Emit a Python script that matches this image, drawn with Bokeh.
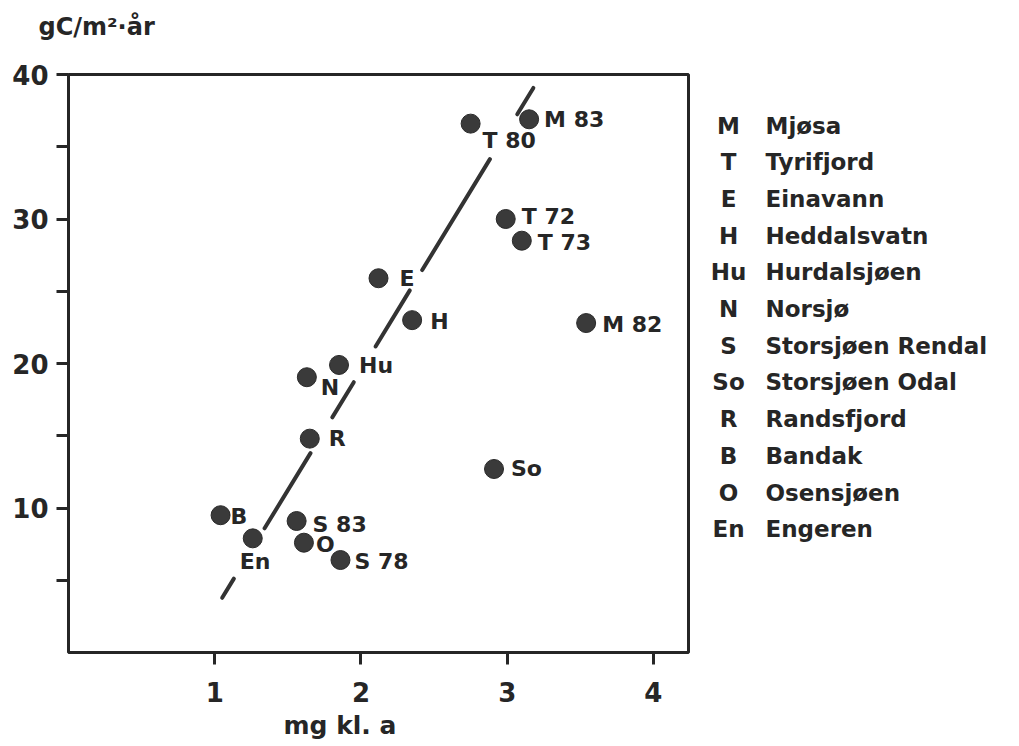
from bokeh.plotting import figure
from bokeh.models import Range1d, FixedTicker, ColumnDataSource, Title
from bokeh.layouts import row
from bokeh.embed import file_html
from bokeh.resources import INLINE
from bokeh.core.properties import value

# ---------------- data ----------------
lake_codes = ["M 83", "T 80", "T 72", "T 73", "M 82", "So", "E", "H", "Hu",
              "N", "R", "B", "En", "S 83", "O", "S 78"]
chl_a = [3.15, 2.75, 2.99, 3.10, 3.54, 2.91, 2.12, 2.35, 1.85,
         1.63, 1.65, 1.04, 1.26, 1.56, 1.61, 1.86]          # mg kl. a
production = [36.9, 36.6, 30.0, 28.5, 22.8, 12.7, 25.9, 23.0, 19.9,
              19.05, 14.8, 9.5, 7.9, 9.1, 7.6, 6.4]          # gC/m2 år

legend_codes = ["M", "T", "E", "H", "Hu", "N", "S", "So", "R", "B", "O", "En"]
legend_names = ["Mjøsa", "Tyrifjord", "Einavann", "Heddalsvatn", "Hurdalsjøen",
                "Norsjø", "Storsjøen Rendal", "Storsjøen Odal", "Randsfjord",
                "Bandak", "Osensjøen", "Engeren"]

# regression line y = a + b x, drawn in pieces (gaps around labels)
trend_intercept = -13.64
trend_slope = 16.58
trend_x_start = [1.051, 1.341, 1.804, 2.100, 2.419, 3.069]
trend_x_end = [1.131, 1.655, 1.951, 2.334, 2.882, 3.179]

x_ticks = [1, 2, 3, 4]
y_ticks = [10, 20, 30, 40]
y_minor_ticks = [5, 15, 25, 35]

# ---------------- layout / style ----------------
H = 746
FL, FT, FW, FH = 68, 74, 620, 578
MAIN_W = 708
KEY_W = 311
X0, X1, Y0, Y1 = 0.0, 4.24, 0.0, 40.0
INK = "#262626"
DOT = "#3a3a3a"
FONT = value("DejaVu Sans")

label_dx = [15, 12, 16, 16, 16, 17, 21, 18, 20, 14, 19, 10, -13, 16, 12, 14]
label_dy = [0, 17, -3, 2, 1, 0, 0, 1, 1, 10, 0, 1, 23, 3, 2, 1]

p = figure(width=MAIN_W, height=H, output_backend="svg", toolbar_location=None,
           x_range=Range1d(X0, X1), y_range=Range1d(Y0, Y1),
           min_border_left=FL, min_border_top=FT,
           min_border_right=MAIN_W - FL - FW, min_border_bottom=H - FT - FH)
p.background_fill_color = "white"
p.border_fill_color = "white"
p.outline_line_color = INK
p.outline_line_width = 3
p.xgrid.visible = False
p.ygrid.visible = False

for ax in (p.xaxis[0], p.yaxis[0]):
    ax.axis_line_color = None
    ax.major_tick_line_color = INK
    ax.major_tick_line_width = 3
    ax.major_tick_in = 0
    ax.major_tick_out = 12
    ax.minor_tick_line_color = INK
    ax.minor_tick_line_width = 3
    ax.minor_tick_in = 0
    ax.minor_tick_out = 12
    ax.major_label_text_font = "DejaVu Sans"
    ax.major_label_text_font_style = "bold"
    ax.major_label_text_font_size = "26px"
    ax.major_label_text_color = INK

p.xaxis[0].ticker = FixedTicker(ticks=x_ticks, minor_ticks=[])
p.xaxis[0].major_label_standoff = 17
p.yaxis[0].ticker = FixedTicker(ticks=y_ticks, minor_ticks=y_minor_ticks)
p.yaxis[0].major_label_standoff = 8

# titles (y on top-left, x below, offset to the left of centre as in source)
p.add_layout(Title(text=" ", text_font_size="12px", standoff=18), "above")  # spacer
p.add_layout(Title(text="gC/m²·år", align="left", offset=-30, standoff=0,
                   text_font="DejaVu Sans", text_font_style="bold",
                   text_font_size="24px", text_color=INK), "above")
p.add_layout(Title(text="mg kl. a", align="left", offset=215, standoff=8,
                   text_font="DejaVu Sans", text_font_style="bold",
                   text_font_size="25px", text_color=INK), "below")

# regression line
seg = ColumnDataSource(dict(
    x0=trend_x_start, x1=trend_x_end,
    y0=[trend_intercept + trend_slope * v for v in trend_x_start],
    y1=[trend_intercept + trend_slope * v for v in trend_x_end]))
p.segment(x0="x0", y0="y0", x1="x1", y1="y1", source=seg,
          line_color="#333333", line_width=4, line_cap="round")

# points and their labels
pts = ColumnDataSource(dict(x=chl_a, y=production, t=lake_codes,
                            dx=label_dx, dy=label_dy))
p.scatter(x="x", y="y", source=pts, size=19, fill_color=DOT,
          line_color="#2a2a2a", line_width=1)
p.text(x="x", y="y", text="t", source=pts, x_offset="dx", y_offset="dy",
       text_font=FONT, text_font_style="bold", text_font_size="22px",
       text_align="left", text_baseline="middle", text_color=INK)

# ---------------- key of lake names (separate panel, pixel space) ----------------
k = figure(width=KEY_W, height=H, output_backend="svg", toolbar_location=None,
           x_range=Range1d(0, KEY_W), y_range=Range1d(FT + FH, FT),
           x_axis_type=None, y_axis_type=None,
           min_border_left=0, min_border_right=0,
           min_border_top=FT, min_border_bottom=H - FT - FH)
k.outline_line_color = None
k.background_fill_color = "white"
k.border_fill_color = "white"
k.xgrid.visible = False
k.ygrid.visible = False

row_y = [125 + 36.7 * i for i in range(len(legend_codes))]
key = ColumnDataSource(dict(code=legend_codes, name=legend_names, y=row_y,
                            xc=[20] * len(row_y), xn=[57] * len(row_y)))
k.text(x="xc", y="y", text="code", source=key, text_font=FONT,
       text_font_style="bold", text_font_size="23px", text_color=INK,
       text_align="center", text_baseline="middle")
k.text(x="xn", y="y", text="name", source=key, text_font=FONT,
       text_font_style="bold", text_font_size="23px", text_color=INK,
       text_align="left", text_baseline="middle")

layout = row(p, k)
open("out.html", "w").write(file_html(layout, INLINE))
